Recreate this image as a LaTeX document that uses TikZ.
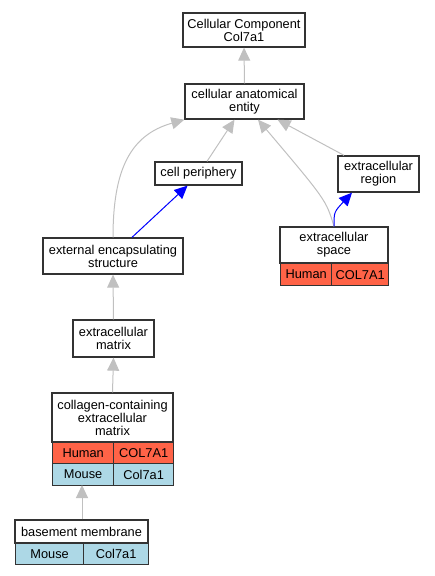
\documentclass[tikz,border=0pt]{standalone}
\usepackage{fontspec}
\setmainfont{Liberation Sans}
\usetikzlibrary{arrows.meta,calc}
\definecolor{humanc}{HTML}{FF6347}
\definecolor{mousec}{HTML}{ADD8E6}
\definecolor{edgegray}{HTML}{C0C0C0}
\definecolor{bordc}{HTML}{333333}
\tikzset{
  box/.style={draw=bordc, line width=1.3pt, fill=white, inner sep=0pt, align=center, font=\fontsize{12.8}{13}\selectfont},
  hum/.style={box, fill=humanc},
  mou/.style={box, fill=mousec},
  isa/.style={draw=edgegray, line width=1pt, -{Triangle[length=13pt,width=12pt]}},
  partof/.style={draw=blue, line width=1pt, -{Triangle[length=13pt,width=12pt]}},
}
\begin{document}
\begin{tikzpicture}[x=1pt,y=-1pt]
\useasboundingbox (0,0) rectangle (435,576);
% nodes
\node[box, minimum width=122, minimum height=34] (cc) at (244,30) {Cellular Component\\Col7a1};
\node[box, minimum width=119, minimum height=35] (cae) at (244.5,101.5) {cellular anatomical\\entity};
\node[box, minimum width=87, minimum height=23] (cp) at (198.5,173.5) {cell periphery};
\node[box, minimum width=81, minimum height=36] (er) at (378.5,174) {extracellular\\region};
\node[box, minimum width=108, minimum height=36] (es) at (334,245) {extracellular\\space};
\node[hum, minimum width=51, minimum height=22, anchor=north west] (esh) at (280,263) {Human};
\node[hum, minimum width=57, minimum height=22, anchor=north west] (esg) at (331,263) {COL7A1};
\node[box, minimum width=140, minimum height=36] (ees) at (113,256) {external encapsulating\\structure};
\node[box, minimum width=81, minimum height=37] (em) at (113.5,338.5) {extracellular\\matrix};
\node[box, minimum width=121, minimum height=49] (ccem) at (112.5,417.5) {collagen-containing\\extracellular\\matrix};
\node[hum, minimum width=61, minimum height=21, anchor=north west] (ccemh) at (52,442) {Human};
\node[hum, minimum width=60, minimum height=21, anchor=north west] (ccemhg) at (113,442) {COL7A1};
\node[mou, minimum width=61, minimum height=22, anchor=north west] (ccemm) at (52,463) {Mouse};
\node[mou, minimum width=60, minimum height=22, anchor=north west] (ccemmg) at (113,463) {Col7a1};
\node[box, minimum width=133, minimum height=23] (bm) at (81.5,531.5) {basement membrane};
\node[mou, minimum width=68, minimum height=21, anchor=north west] (bmm) at (15,543) {Mouse};
\node[mou, minimum width=65, minimum height=21, anchor=north west] (bmg) at (83,543) {Col7a1};
% edges
\draw[isa] (cae.north) -- (cc.south);
\draw[isa] ([xshift=8.5]cp.north) -- ([xshift=-10]cae.south);
\draw[isa] (ees.north) .. controls (113,170) and (130,135) .. (cae.south west);
\draw[isa] (es.north) .. controls (326,200) .. ([xshift=13.5]cae.south);
\draw[isa] ([xshift=-34.5]er.north) -- ([xshift=33]cae.south);
\draw[partof] ([xshift=19]ees.north) -- ([xshift=-11]cp.south);
\draw[partof] (es.north) .. controls (334,212) .. ([xshift=-26.5]er.south);
\draw[isa] (em.north) -- (ees.south);
\draw[isa] (ccem.north) -- (em.south);
\draw[isa] ([xshift=0.5]bm.north) -- (82,485);
\end{tikzpicture}
\end{document}
